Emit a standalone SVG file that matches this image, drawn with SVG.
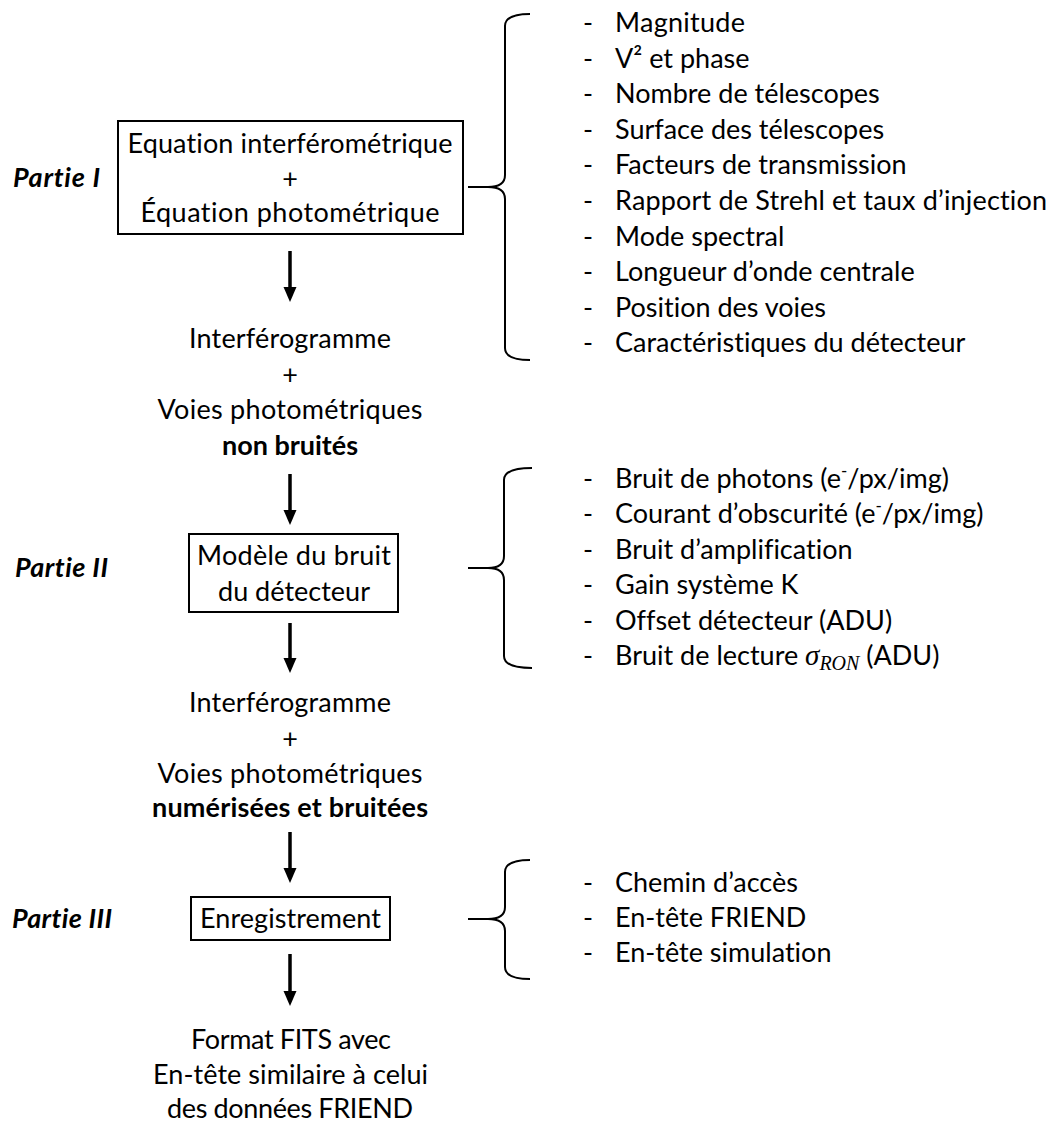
<svg xmlns="http://www.w3.org/2000/svg" width="1049" height="1124" viewBox="0 0 1049 1124">
<defs>
<style>
text{font-family:Lato,"Open Sans","Liberation Sans",sans-serif;font-size:27px;fill:#000;font-variant-ligatures:none;font-feature-settings:"liga" 0,"clig" 0}
.c{text-anchor:middle}
.b{font-weight:bold}
.p{font-weight:bold;font-style:italic}
.box{fill:#fff;stroke:#000;stroke-width:2}
.br{fill:none;stroke:#000;stroke-width:2}
.ar{stroke:#000;stroke-width:3.5;fill:none}
.m{font-family:"Liberation Serif","DejaVu Serif",serif;font-style:italic}
</style>
<marker id="ah" markerUnits="userSpaceOnUse" markerWidth="16" markerHeight="14" refX="4" refY="6.5" orient="auto">
<path d="M0,0 L15,6.5 L0,13 z" fill="#000"/>
</marker>
</defs>
<rect width="1049" height="1124" fill="#fff"/>

<g id="labels">
<text class="p" x="13" y="187" textLength="87">Partie I</text>
<text class="p" x="15" y="577" textLength="93">Partie II</text>
<text class="p" x="12" y="928" textLength="100">Partie III</text>
</g>

<g id="node-eq">
<rect class="box" x="118" y="121" width="345" height="113"/>
<text class="c" x="290" y="153" textLength="325">Equation interférométrique</text>
<text class="c" x="290" y="188">+</text>
<text class="c" x="290" y="222" textLength="299">Équation photométrique</text>
</g>

<g id="node-res1">
<text class="c" x="290" y="348" textLength="202">Interférogramme</text>
<text class="c" x="290" y="383.5">+</text>
<text class="c" x="290" y="419" textLength="265">Voies photométriques</text>
<text class="c b" x="290" y="455" textLength="136">non bruités</text>
</g>

<g id="node-bruit">
<rect class="box" x="189" y="534" width="209" height="78"/>
<text class="c" x="294" y="565" textLength="194">Modèle du bruit</text>
<text class="c" x="294" y="601" textLength="152">du détecteur</text>
</g>

<g id="node-res2">
<text class="c" x="290" y="712" textLength="202">Interférogramme</text>
<text class="c" x="290" y="747.5">+</text>
<text class="c" x="290" y="783" textLength="265">Voies photométriques</text>
<text class="c b" x="290" y="817" textLength="276">numérisées et bruitées</text>
</g>

<g id="node-enreg">
<rect class="box" x="191" y="897" width="199" height="43"/>
<text class="c" x="290.5" y="928" textLength="181">Enregistrement</text>
</g>

<g id="node-fits">
<text class="c" x="291" y="1049" textLength="200">Format FITS avec</text>
<text class="c" x="290.5" y="1084" textLength="275">En-tête similaire à celui</text>
<text class="c" x="290" y="1118" textLength="246">des données FRIEND</text>
</g>

<g id="list1">
<path class="br" d="M530,14 Q505,14 505,26 L505,175 Q505,187 488,187 L468,187 M488,187 Q505,187 505,199 L505,348 Q505,360 530,360"/>
<text x="583" y="32">-</text><text x="615" y="32" textLength="130">Magnitude</text>
<text x="583" y="67.6">-</text><text x="615" y="67.6">V² et phase</text>
<text x="583" y="103.2">-</text><text x="615" y="103.2">Nombre de télescopes</text>
<text x="583" y="138.8">-</text><text x="615" y="138.8">Surface des télescopes</text>
<text x="583" y="174.4">-</text><text x="615" y="174.4">Facteurs de transmission</text>
<text x="583" y="210">-</text><text x="615" y="210" textLength="432">Rapport de Strehl et taux d’injection</text>
<text x="583" y="245.6">-</text><text x="615" y="245.6">Mode spectral</text>
<text x="583" y="281.2">-</text><text x="615" y="281.2">Longueur d’onde centrale</text>
<text x="583" y="316.8">-</text><text x="615" y="316.8">Position des voies</text>
<text x="583" y="352.4">-</text><text x="615" y="352.4">Caractéristiques  du détecteur</text>
</g>

<g id="list2">
<path class="br" d="M532,468 Q504,468 504,480 L504,556 Q504,568 488,568 L468,568 M488,568 Q504,568 504,580 L504,656 Q504,668 532,668"/>
<text x="583" y="488">-</text><text x="615" y="488">Bruit de photons (e<tspan font-size="17" dy="-11">-</tspan><tspan dy="11">/px/img)</tspan></text>
<text x="583" y="523.4">-</text><text x="615" y="523.4">Courant d’obscurité (e<tspan font-size="17" dy="-11">-</tspan><tspan dy="11">/px/img)</tspan></text>
<text x="583" y="558.8">-</text><text x="615" y="558.8">Bruit d’amplification</text>
<text x="583" y="594.2">-</text><text x="615" y="594.2">Gain système K</text>
<text x="583" y="629.6">-</text><text x="615" y="629.6">Offset détecteur (ADU)</text>
<text x="583" y="665">-</text><text x="615" y="665">Bruit de lecture <tspan class="m" font-size="29">σ</tspan><tspan class="m" font-size="20" dy="5">RON</tspan><tspan dy="-5"> (ADU)</tspan></text>
</g>

<g id="list3">
<path class="br" d="M530,860 Q505,860 505,872 L505,907 Q505,919 488,919 L468,919 M488,919 Q505,919 505,931 L505,967 Q505,979 530,979"/>
<text x="583" y="892">-</text><text x="615" y="892">Chemin d’accès</text>
<text x="583" y="927">-</text><text x="615" y="927">En-tête FRIEND</text>
<text x="583" y="962">-</text><text x="615" y="962">En-tête simulation</text>
</g>

<g id="connectors">
<line class="ar" x1="290" y1="251" x2="290" y2="291" marker-end="url(#ah)"/>
<line class="ar" x1="290" y1="474" x2="290" y2="514" marker-end="url(#ah)"/>
<line class="ar" x1="290" y1="623" x2="290" y2="662" marker-end="url(#ah)"/>
<line class="ar" x1="290" y1="832" x2="290" y2="872" marker-end="url(#ah)"/>
<line class="ar" x1="290" y1="954" x2="290" y2="995" marker-end="url(#ah)"/>
</g>
</svg>
